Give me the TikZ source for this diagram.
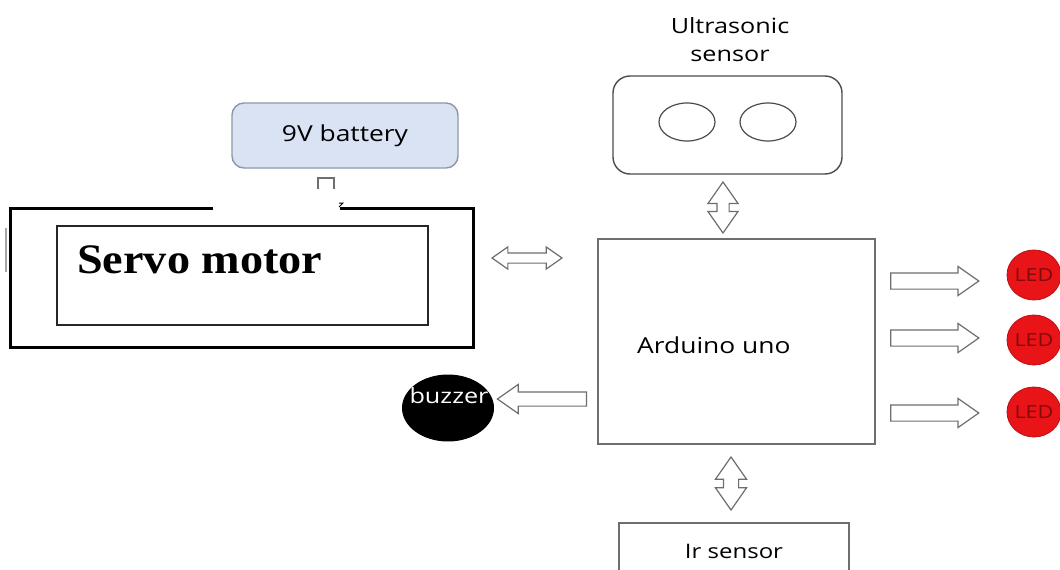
\documentclass[tikz,border=0pt]{standalone}
\usepackage{fontspec}
\setmainfont{Open Sans}[FakeStretch=1.2]
\newfontfamily\servofont{Liberation Serif}[FakeStretch=1.1]
\usetikzlibrary{shapes.geometric,shapes.arrows}
\definecolor{battfill}{RGB}{218,227,243}
\definecolor{battline}{RGB}{140,152,170}
\definecolor{ledred}{RGB}{232,20,24}
\definecolor{ledtext}{RGB}{130,10,10}
\definecolor{boxgray}{RGB}{110,110,110}

\begin{document}
\begin{tikzpicture}[x=1pt,y=-1pt,
    box/.style={draw=boxgray,line width=1.4pt,inner sep=0pt},
    rarrow/.style={single arrow,draw=boxgray,fill=white,line width=1.2pt,
      inner xsep=0pt,single arrow tip angle=70},
    darrow/.style={double arrow,draw=boxgray,fill=white,line width=1.2pt,
      inner xsep=0pt,double arrow tip angle=70},
    led/.style={ellipse,fill=ledred,draw=ledred!80!black,line width=0.8pt,
      minimum width=54pt,minimum height=50pt,inner sep=0pt},
    txt/.style={font=\fontsize{21}{28}\selectfont,inner sep=0pt}]
  \fill[white] (0,0) rectangle (1060,570);
  \useasboundingbox (0,0) rectangle (1060,570);

  \node[txt,align=center] (ultralabel) at (730,40) {Ultrasonic\\sensor};
  \node[box,draw=black!70,rounded corners=17pt,minimum width=229pt,
    minimum height=98pt] (ultra) at (727.5,125) {};
  \node[ellipse,draw=black!70,line width=1.2pt,minimum width=56pt,
    minimum height=38pt] (ultraL) at (687,122) {};
  \node[ellipse,draw=black!70,line width=1.2pt,minimum width=56pt,
    minimum height=38pt] (ultraR) at (768,122) {};

  \node[box,rounded corners=12pt,fill=battfill,draw=battline,minimum width=226pt,
    minimum height=65pt,txt,font=\fontsize{22}{26}\selectfont] (battery) at (345,135.5) {9V battery};
  \draw[boxgray,line width=1.8pt] (318,189) -- (318,178) -- (334,178) -- (334,189);
  \draw[line width=1pt] (339,203) -- (343,203) -- (339,207);

  \draw[line width=3pt] (213,208) -| (10,347) -| (473,208) -- (340,208);
  \draw[black!35,line width=1.5pt] (6,228) -- (6,272);
  \node[draw=black!85,line width=1.4pt,minimum width=371pt,
    minimum height=99pt] (servo) at (242.5,275.5) {};
  \node[font=\servofont\bfseries\fontsize{42}{48}\selectfont,anchor=base west,
    inner sep=0pt] (servotext) at (77,273) {Servo motor};

  \node[box,minimum width=277pt,minimum height=205pt] (ard) at (736.5,341.5) {};
  \node[txt,font=\fontsize{22}{28}\selectfont,anchor=base west] (ardtext) at (637,353) {Arduino uno};

  \node[box,minimum width=230pt,minimum height=56pt,txt,
    font=\fontsize{20}{24}\selectfont] (ir) at (734,551) {Ir sensor};

  \node[ellipse,fill=black,minimum width=92pt,minimum height=67pt,
    inner sep=0pt] (buzzer) at (448,408) {};
  \node[font=\fontsize{21}{24}\selectfont,text=white,inner sep=0pt] (buzzertext) at (449,396) {buzzer};

  \node[darrow,minimum height=70pt,inner ysep=4.5pt,
    double arrow head extend=6pt] (servoarrow) at (527,258) {};
  \node[darrow,rotate=90,minimum height=51pt,inner ysep=5.5pt,
    double arrow head extend=9pt] (ultraarrow) at (723,207.5) {};
  \node[darrow,rotate=90,minimum height=53pt,inner ysep=7pt,
    double arrow head extend=8pt] (irarrow) at (731,483.5) {};
  \node[rarrow,rotate=180,minimum height=89pt,inner ysep=6.5pt,
    single arrow head extend=7.5pt] (buzzerarrow) at (547,399) {};

  \foreach \i/\ly/\ay in {1/275/281,2/340/338,3/412/413} {
    \node[rarrow,minimum height=88pt,inner ysep=7.5pt,
      single arrow head extend=6.5pt] (ledarrow\i) at (929,\ay) {};
    \node[led] (led\i) at (1034,\ly) {};
    \node[font=\fontsize{18}{22}\selectfont,text=ledtext,inner sep=0pt] (ledtext\i) at (led\i) {LED};
  }
\end{tikzpicture}
\end{document}
